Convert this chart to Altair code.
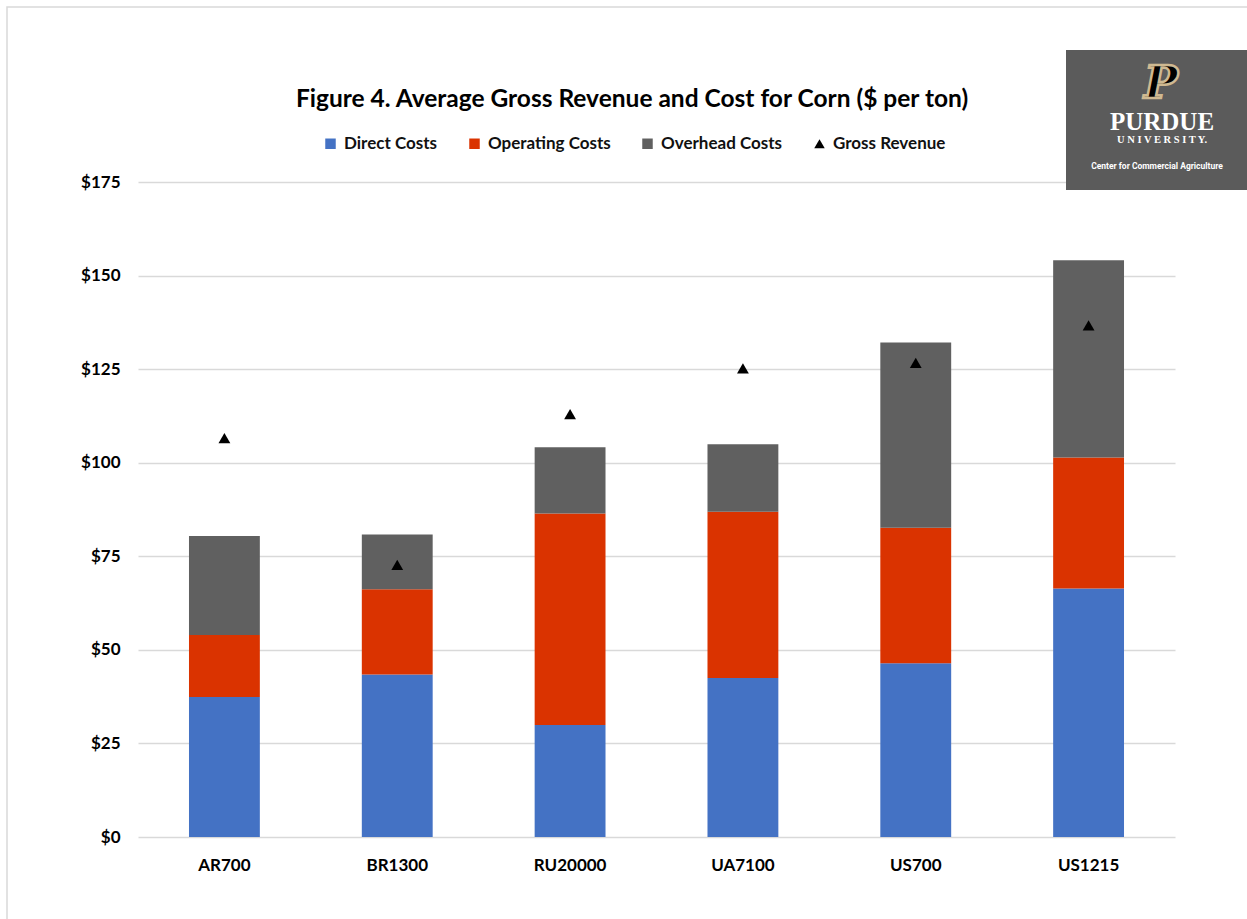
import altair as alt
import pandas as pd

# ---- data ----
categories = ["AR700", "BR1300", "RU20000", "UA7100", "US700", "US1215"]
direct_costs = [37.4, 43.4, 29.9, 42.5, 46.4, 66.4]
operating_costs = [16.6, 22.8, 56.5, 44.4, 36.2, 35.0]
overhead_costs = [26.4, 14.6, 17.7, 18.0, 49.5, 52.7]
gross_revenue = [106.6, 72.7, 113.0, 125.2, 126.7, 136.7]
series_names = ["Direct Costs", "Operating Costs", "Overhead Costs", "Gross Revenue"]
series_colors = ["#4472C4", "#DA3300", "#606060", "#000000"]
series_shapes = ["square", "square", "square", "triangle-up"]
y_ticks = [0, 25, 50, 75, 100, 125, 150, 175]
title_text = "Figure 4. Average Gross Revenue and Cost for Corn ($ per ton)"

rows = []
for i, c in enumerate(categories):
    for k, (name, vals) in enumerate(zip(series_names[:3], [direct_costs, operating_costs, overhead_costs])):
        rows.append({"Category": c, "Series": name, "Value": vals[i], "ord": k})
bars_df = pd.DataFrame(rows)
rev_df = pd.DataFrame({"Category": categories, "Series": "Gross Revenue", "Value": gross_revenue})
one = pd.DataFrame({"k": [0]})

FONT = "Lato"

x_enc = alt.X("Category:N", sort=categories,
              scale=alt.Scale(paddingInner=0.59, paddingOuter=0.295),
              axis=alt.Axis(title=None, labelAngle=0, labelFont=FONT, labelFontWeight="bold",
                            labelFontSize=17, labelColor="#000000", labelPadding=20,
                            ticks=False, domain=False))
y_axis = alt.Axis(values=y_ticks, labelExpr="'$' + datum.value", title=None, grid=True,
                  gridColor="#D9D9D9", gridWidth=1.5, ticks=False, domain=False,
                  labelPadding=18, labelFont=FONT, labelFontWeight="bold", labelFontSize=17,
                  labelColor="#000000")
y_scale = alt.Scale(domain=[0, 175], nice=False, zero=True)

legend = alt.Legend(title=None, orient="none", legendX=184, legendY=-47, direction="horizontal",
                    symbolType="square", symbolSize=110, symbolStrokeWidth=0,
                    labelFont=FONT, labelFontSize=17, labelFontWeight="bold",
                    labelColor="#111111", columnPadding=28, labelOffset=5)
color_scale = alt.Scale(domain=series_names, range=series_colors)
shape_scale = alt.Scale(domain=series_names, range=series_shapes)

border = alt.Chart(one).mark_rect(fillOpacity=0, stroke="#D9D9D9", strokeWidth=1.5).encode(
    x=alt.value(-131), x2=alt.value(1125), y=alt.value(-175), y2=alt.value(750))

bars = alt.Chart(bars_df).mark_bar().encode(
    x=x_enc,
    y=alt.Y("Value:Q", stack="zero", scale=y_scale, axis=y_axis),
    color=alt.Color("Series:N", scale=color_scale, legend=legend),
    order=alt.Order("ord:Q", sort="ascending"),
)

points = alt.Chart(rev_df).mark_point(filled=True, size=140, opacity=1).encode(
    x=x_enc,
    y=alt.Y("Value:Q", scale=y_scale, axis=y_axis),
    color=alt.Color("Series:N", scale=color_scale, legend=legend),
    shape=alt.Shape("Series:N", scale=shape_scale, legend=legend),
)

title = alt.Chart(one).mark_text(text=title_text, font=FONT, fontSize=24.5, fontWeight="bold",
                                 color="#000000", align="center", baseline="middle").encode(
    x=alt.value(494), y=alt.value(-82))

logo_box = alt.Chart(one).mark_rect(color="#5B5B5B").encode(
    x=alt.value(928), x2=alt.value(1115), y=alt.value(-132), y2=alt.value(8))
logo_p = alt.Chart(one).mark_text(text="P", font="DejaVu Serif", fontSize=45, fontWeight="bold",
                                  fontStyle="italic", color="#000000", stroke="#CFB991",
                                  strokeWidth=2.5, align="center", baseline="middle").encode(
    x=alt.value(1023), y=alt.value(-98))
logo_name = alt.Chart(one).mark_text(text="PURDUE", font="Liberation Serif", fontSize=25,
                                     fontWeight="bold", color="#FFFFFF", align="center",
                                     baseline="middle").encode(
    x=alt.value(1024), y=alt.value(-60))
logo_univ = alt.Chart(one).mark_text(text="U N I V E R S I T Y.", font="Liberation Serif", fontSize=10.5,
                                     fontWeight="bold", color="#FFFFFF", align="center",
                                     baseline="middle").encode(
    x=alt.value(1024), y=alt.value(-42))
logo_center = alt.Chart(one).mark_text(text="Center for Commercial Agriculture", font="Roboto",
                                       fontSize=8.5, fontWeight="bold", color="#FFFFFF", align="center",
                                       baseline="middle").encode(
    x=alt.value(1019), y=alt.value(-16))

chart = alt.layer(border, bars, points, title, logo_box, logo_p, logo_name, logo_univ, logo_center).properties(
    width=1037, height=655,
    padding={"left": 138, "top": 182, "right": 72, "bottom": 82},
    autosize=alt.AutoSizeParams(type="none"),
    background="#FFFFFF",
).configure_view(stroke=None)

chart.save("out.html", embed_options={"renderer": "svg", "actions": False})
